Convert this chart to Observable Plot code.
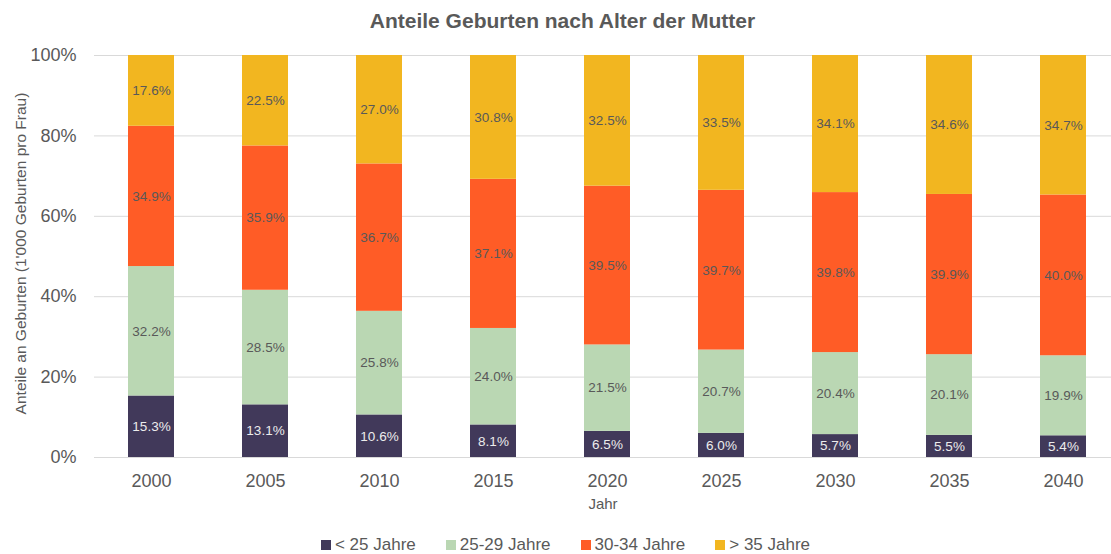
<!DOCTYPE html>
<html>
<head>
<meta charset="utf-8">
<script src="https://cdn.jsdelivr.net/npm/d3@7"></script>
<script src="https://cdn.jsdelivr.net/npm/@observablehq/plot@0.6"></script>
<style>
  html, body { margin: 0; padding: 0; background: #fff; }
  body { width: 1111px; height: 554px; overflow: hidden; font-family: "Liberation Sans", Arial, sans-serif; color: #595959; }
  #title { height: 44px; line-height: 42px; text-align: center; font-weight: bold; font-size: 21px; padding-left: 14px; }
  #chart svg { display: block; }
  #legend { box-sizing: border-box; display: flex; justify-content: center; align-items: center; gap: 30px; height: 34px; font-size: 17px; padding-left: 20px; padding-top: 16px; }
  #legend .item { display: flex; align-items: center; gap: 4px; }
  #legend .sw { width: 10px; height: 10px; display: inline-block; }
</style>
</head>
<body>
<div id="title">Anteile Geburten nach Alter der Mutter</div>
<div id="chart"></div>
<div id="legend"></div>
<script>
const years = ["2000", "2005", "2010", "2015", "2020", "2025", "2030", "2035", "2040"];
const seriesNames = ["< 25 Jahre", "25-29 Jahre", "30-34 Jahre", "> 35 Jahre"];
const under25 = [15.3, 13.1, 10.6, 8.1, 6.5, 6.0, 5.7, 5.5, 5.4];
const age25to29 = [32.2, 28.5, 25.8, 24.0, 21.5, 20.7, 20.4, 20.1, 19.9];
const age30to34 = [34.9, 35.9, 36.7, 37.1, 39.5, 39.7, 39.8, 39.9, 40.0];
const over35 = [17.6, 22.5, 27.0, 30.8, 32.5, 33.5, 34.1, 34.6, 34.7];
const yTicks = [0, 0.2, 0.4, 0.6, 0.8, 1.0];
const colors = ["#41395A", "#BAD7B3", "#FF5C26", "#F2B620"];
const labelColors = ["#ececec", "#595959", "#595959", "#595959"];

const seriesValues = [under25, age25to29, age30to34, over35];
const data = [];
years.forEach((yr, i) => {
  seriesNames.forEach((s, j) => {
    data.push({year: yr, series: s, value: seriesValues[j][i], label: seriesValues[j][i].toFixed(1) + "%", lc: labelColors[j]});
  });
});

const chart = Plot.plot({
  width: 1111,
  height: 476,
  marginTop: 11,
  marginBottom: 63,
  marginLeft: 94,
  marginRight: 0,
  style: {fontFamily: "'Liberation Sans', Arial, sans-serif", color: "#595959", background: "white"},
  x: {domain: years, range: [94, 1120], paddingInner: 0.596, paddingOuter: 0.298, label: null},
  y: {domain: [0, 1], label: null},
  color: {domain: seriesNames, range: colors},
  marks: [
    Plot.ruleY(yTicks, {stroke: "#d9d9d9", strokeWidth: 1}),
    Plot.barY(data, Plot.stackY({offset: "normalize", order: null}, {x: "year", y: "value", z: "series", fill: "series"})),
    Plot.text(data, Plot.stackY({offset: "normalize", order: null}, {x: "year", y: "value", z: "series", text: "label", fill: "lc", fontSize: 13.5})),
    Plot.axisX({tickSize: 0, tickPadding: 17, fontSize: 18, label: null}),
    Plot.axisY({ticks: yTicks, tickFormat: d => Math.round(d * 100) + "%", tickSize: 0, tickPadding: 18, fontSize: 18, label: null}),
    Plot.text(["Jahr"], {frameAnchor: "bottom", dy: 51, fontSize: 15, fill: "#595959"}),
    Plot.text(["Anteile an Geburten (1'000 Geburten pro Frau)"], {frameAnchor: "left", textAnchor: "middle", dx: -73, dy: -3, rotate: -90, fontSize: 15.5, fill: "#595959"})
  ]
});
document.getElementById("chart").appendChild(chart);

const legend = document.getElementById("legend");
seriesNames.forEach((s, j) => {
  const item = document.createElement("div");
  item.className = "item";
  const sw = document.createElement("span");
  sw.className = "sw";
  sw.style.background = colors[j];
  const t = document.createElement("span");
  t.textContent = s;
  item.appendChild(sw);
  item.appendChild(t);
  legend.appendChild(item);
});
</script>
</body>
</html>
